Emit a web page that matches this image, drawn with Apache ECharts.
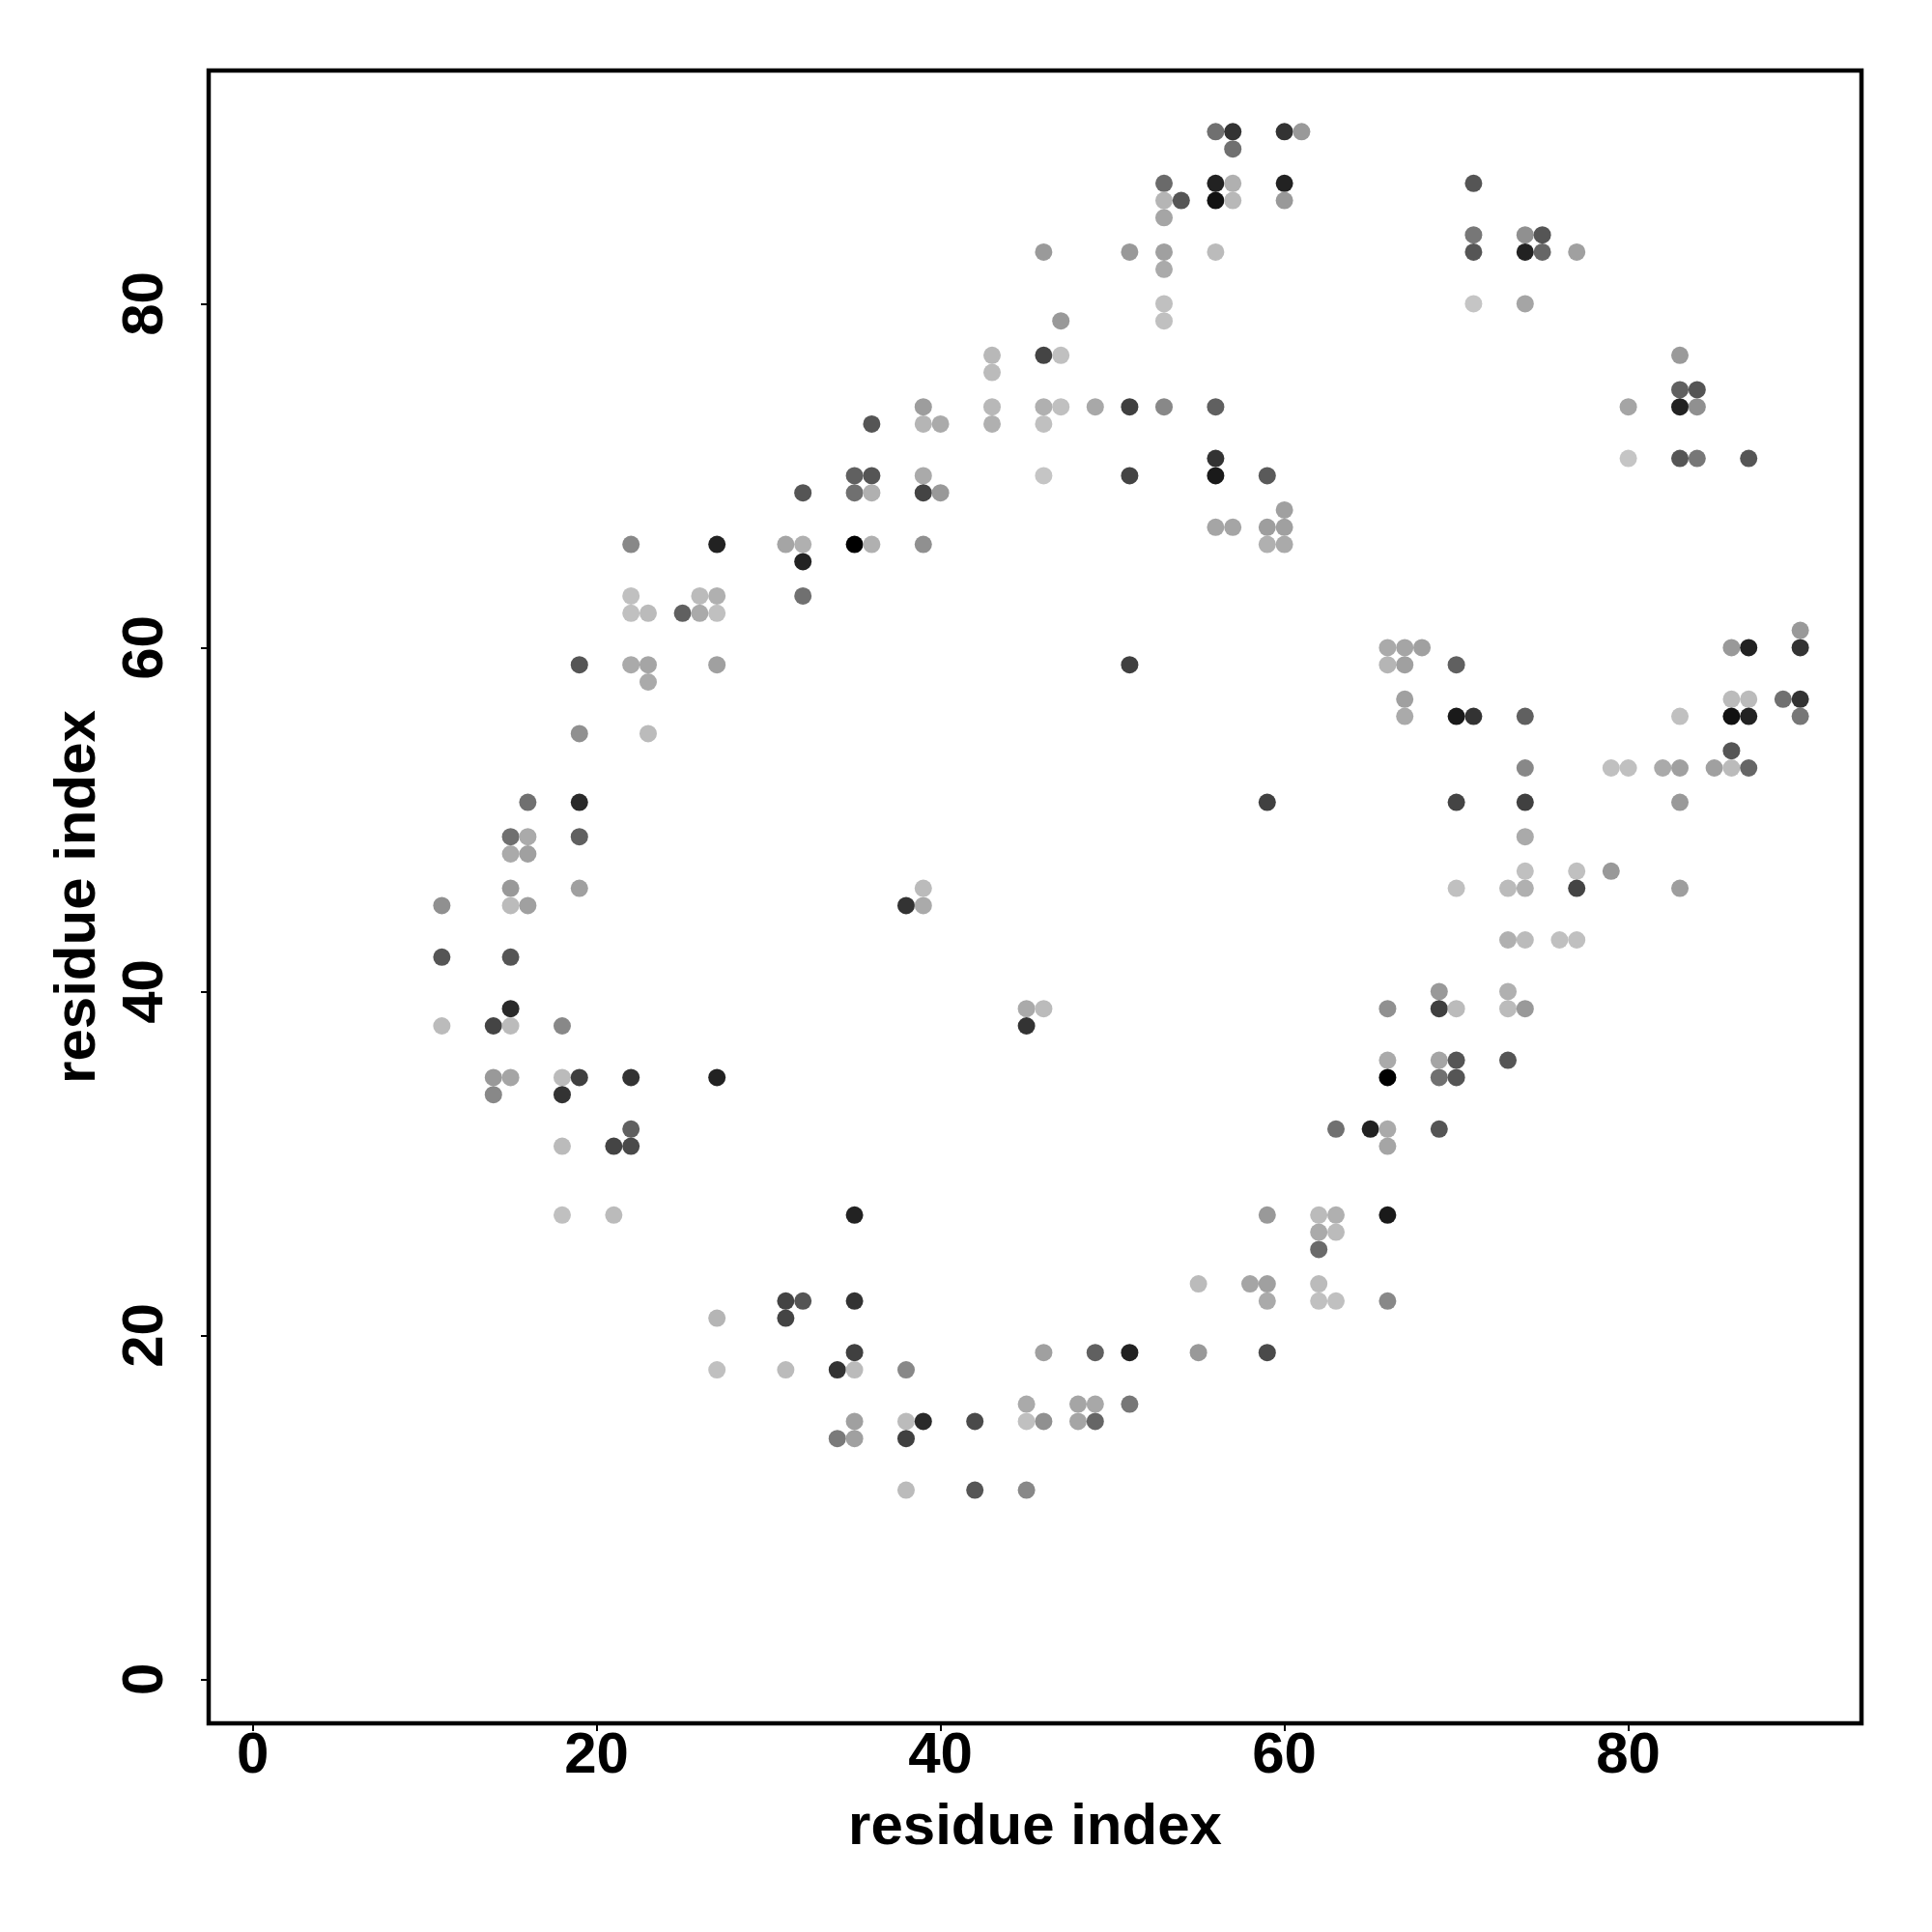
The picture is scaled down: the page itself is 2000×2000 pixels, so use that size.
<!DOCTYPE html>
<html>
<head>
<meta charset="utf-8">
<script src="https://cdn.jsdelivr.net/npm/echarts@6/dist/echarts.min.js"></script>
<style>
html,body{margin:0;padding:0;background:#ffffff;}
#chart{width:2000px;height:2000px;}
</style>
</head>
<body>
<div id="chart"></div>
<script>
// residue i (x), residue j (y), grey level of each contact (0 = black, 255 = white)
const contactI = [
  11,11,11,
  14,14,14,
  15,15,15,15,15,15,15,15,
  16,16,16,16,
  18,18,18,18,18,
  19,19,19,19,19,19,
  21,21,
  22,22,22,22,22,22,22,
  23,23,23,23,
  25,
  26,26,
  27,27,27,27,27,27,27,
  31,31,31,31,
  32,32,32,32,32,
  34,34,
  35,35,35,35,35,35,35,35,35,
  36,36,36,36,
  38,38,38,38,38,
  39,39,39,39,39,39,39,39,
  40,40,
  42,42,
  43,43,43,43,
  45,45,45,45,45,
  46,46,46,46,46,46,46,46,
  47,47,47,
  48,48,
  49,49,49,49,
  51,51,51,51,51,51,
  53,53,53,53,53,53,53,53,
  54,
  55,55,
  56,56,56,56,56,56,56,56,
  57,57,57,57,57,
  58,
  59,59,59,59,59,59,59,59,
  60,60,60,60,60,60,
  61,
  62,62,62,62,62,
  63,63,63,63,
  65,
  66,66,66,66,66,66,66,66,66,
  67,67,67,67,
  68,
  69,69,69,69,69,
  70,70,70,70,70,70,70,
  71,71,71,71,71,
  73,73,73,73,73,
  74,74,74,74,74,74,74,74,74,74,74,
  75,75,
  76,
  77,77,77,77,
  79,79,
  80,80,80,
  82,
  83,83,83,83,83,83,83,83,
  84,84,84,
  85,
  86,86,86,86,86,
  87,87,87,87,87,
  89,
  90,90,90,90
];
const contactJ = [
  45,42,38,
  38,35,34,
  49,48,46,45,42,39,38,35,
  51,49,48,45,
  38,35,34,31,27,
  59,55,51,49,46,35,
  31,27,
  66,63,62,59,35,32,31,
  62,59,58,55,
  62,
  63,62,
  66,63,62,59,35,21,18,
  66,22,21,18,
  69,66,65,63,22,
  18,14,
  70,69,66,27,22,19,18,15,14,
  73,70,69,66,
  45,18,15,14,11,
  74,73,70,69,66,46,45,15,
  73,69,
  15,11,
  77,76,74,73,
  39,38,16,15,11,
  83,77,74,73,70,39,19,15,
  79,77,74,
  16,15,
  74,19,16,15,
  83,74,70,59,19,16,
  87,86,85,83,82,80,79,74,
  86,
  23,19,
  90,87,86,83,74,71,70,67,
  90,89,87,86,67,
  23,
  70,67,66,51,27,23,22,19,
  90,87,86,68,67,66,
  90,
  27,26,25,23,22,
  32,27,26,22,
  32,
  60,59,39,36,35,32,31,27,22,
  60,59,57,56,
  60,
  40,39,36,35,32,
  59,56,51,46,39,36,35,
  87,84,83,80,56,
  46,43,40,39,36,
  84,83,80,56,53,51,49,47,46,43,39,
  84,83,
  43,
  83,47,46,43,
  53,47,
  74,71,53,
  53,
  77,75,74,71,56,53,51,46,
  75,74,71,
  53,
  60,57,56,54,53,
  71,60,57,56,53,
  57,
  61,60,57,56
];
const contactShade = [
  144,85,187,
  68,153,136,
  112,170,153,187,85,42,187,165,
  112,170,160,160,
  136,187,51,187,192,
  85,144,42,96,160,64,
  68,187,
  136,192,192,170,51,96,74,
  187,165,170,187,
  96,
  187,170,
  34,176,192,160,34,181,192,
  165,68,68,187,
  85,176,34,112,85,
  51,122,
  96,112,0,34,51,64,187,160,160,
  85,85,176,176,
  51,136,187,64,187,
  157,181,170,68,144,187,170,42,
  170,153,
  74,85,
  184,187,184,176,
  170,51,170,192,136,
  154,68,176,192,197,187,160,144,
  153,192,192,
  165,165,
  168,96,168,102,
  153,64,68,64,34,119,
  106,181,165,160,170,192,192,136,
  85,
  187,153,
  112,34,17,187,96,51,26,165,
  51,112,176,184,165,
  165,
  90,158,176,64,153,160,170,74,
  51,34,153,160,160,170,
  153,
  187,170,106,187,192,
  112,176,187,192,
  34,
  170,181,144,170,0,170,165,26,136,
  165,160,160,170,
  160,
  153,64,165,112,85,
  96,26,68,192,187,85,85,
  85,119,85,197,51,
  187,176,176,187,85,
  144,34,165,96,136,64,170,192,176,187,153,
  85,102,
  192,
  160,192,68,192,
  192,153,
  165,197,192,
  170,
  154,96,34,85,192,160,153,158,
  85,144,119,
  160,
  153,187,17,85,187,
  85,34,187,34,102,
  112,
  153,51,51,119
];
const tickValues = [0, 20, 40, 60, 80];
const axisTitleX = 'residue index';
const axisTitleY = 'residue index';

const points = contactI.map((x, k) => [x, contactJ[k], contactShade[k]]);

const FONT = '"Liberation Sans", Arial, Helvetica, sans-serif';
const chart = echarts.init(document.getElementById('chart'), null, {renderer: 'canvas', width: 2000, height: 2000});

function axisCommon(isY) {
  return {
    type: 'value',
    min: -2.56,
    max: 93.56,
    splitLine: {show: false},
    axisLine: {show: false, onZero: false},
    axisTick: {
      show: true, inside: false, length: 8,
      customValues: tickValues,
      lineStyle: {color: '#000', width: 2}
    },
    axisLabel: {
      show: true,
      customValues: tickValues,
      fontFamily: FONT, fontWeight: 'bold', fontSize: 60, color: '#000',
      margin: isY ? 35 : 4,
      rotate: isY ? 90 : 0,
      showMinLabel: true, showMaxLabel: true
    },
    nameLocation: 'middle',
    nameTextStyle: {fontFamily: FONT, fontWeight: 'bold', fontSize: 60, color: '#000'}
  };
}

const option = {
  backgroundColor: '#ffffff',
  animation: false,
  grid: {
    left: 216, top: 73, right: 73, bottom: 216,
    show: true, borderColor: '#000', borderWidth: 4.5, backgroundColor: 'transparent'
  },
  xAxis: Object.assign(axisCommon(false), {name: axisTitleX, nameGap: 78}),
  yAxis: Object.assign(axisCommon(true), {name: axisTitleY, nameGap: 105}),
  series: [{
    type: 'scatter',
    data: points,
    symbol: 'circle',
    symbolSize: 18,
    itemStyle: {
      opacity: 1,
      color: function (p) {
        const g = p.data[2];
        return 'rgb(' + g + ',' + g + ',' + g + ')';
      }
    }
  }]
};
chart.setOption(option);
</script>
</body>
</html>
